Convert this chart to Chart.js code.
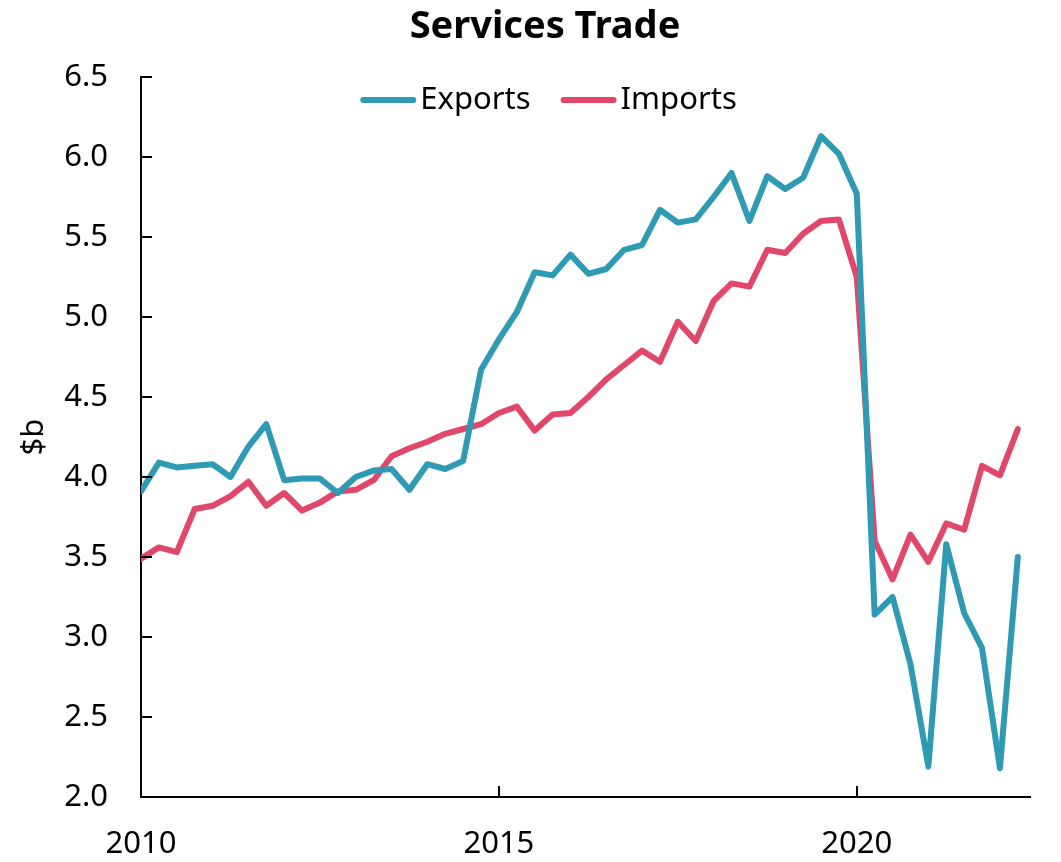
<!DOCTYPE html>
<html>
<head>
<meta charset="utf-8">
<script src="https://cdn.jsdelivr.net/npm/chart.js@4"></script>
<style>
  html, body { margin: 0; padding: 0; background: #fff; }
  #wrap { width: 1061px; height: 862px; }
</style>
</head>
<body>
<div id="wrap"><canvas id="chart" width="1061" height="862"></canvas></div>
<script>
// quarterly, 2010 Q1 .. 2022 Q2
const quarters = [
  "2010Q1","2010Q2","2010Q3","2010Q4","2011Q1","2011Q2","2011Q3","2011Q4",
  "2012Q1","2012Q2","2012Q3","2012Q4","2013Q1","2013Q2","2013Q3","2013Q4",
  "2014Q1","2014Q2","2014Q3","2014Q4","2015Q1","2015Q2","2015Q3","2015Q4",
  "2016Q1","2016Q2","2016Q3","2016Q4","2017Q1","2017Q2","2017Q3","2017Q4",
  "2018Q1","2018Q2","2018Q3","2018Q4","2019Q1","2019Q2","2019Q3","2019Q4",
  "2020Q1","2020Q2","2020Q3","2020Q4","2021Q1","2021Q2","2021Q3","2021Q4",
  "2022Q1","2022Q2"
];
const exportsB = [
  3.91, 4.09, 4.06, 4.07, 4.08, 4.00, 4.19, 4.33, 3.98, 3.99,
  3.99, 3.90, 4.00, 4.04, 4.05, 3.92, 4.08, 4.05, 4.10, 4.67,
  4.86, 5.03, 5.28, 5.26, 5.39, 5.27, 5.30, 5.42, 5.45, 5.67,
  5.59, 5.61, 5.75, 5.90, 5.60, 5.88, 5.80, 5.87, 6.13, 6.02,
  5.77, 3.14, 3.25, 2.83, 2.19, 3.58, 3.15, 2.93, 2.18, 3.50
];
const importsB = [
  3.49, 3.56, 3.53, 3.80, 3.82, 3.88, 3.97, 3.82, 3.90, 3.79,
  3.84, 3.91, 3.92, 3.98, 4.13, 4.18, 4.22, 4.27, 4.30, 4.33,
  4.40, 4.44, 4.29, 4.39, 4.40, 4.50, 4.61, 4.70, 4.79, 4.72,
  4.97, 4.85, 5.10, 5.21, 5.19, 5.42, 5.40, 5.52, 5.60, 5.61,
  5.25, 3.60, 3.36, 3.64, 3.47, 3.71, 3.67, 4.07, 4.01, 4.30
];
const xTicks = [2010, 2015, 2020];
const yTicks = [2.0, 2.5, 3.0, 3.5, 4.0, 4.5, 5.0, 5.5, 6.0, 6.5];

const FONT = "'Noto Sans', 'Open Sans', sans-serif";
const TICK_SIZE = 31;

function qToYear(q) {
  return parseInt(q.slice(0, 4)) + (parseInt(q.slice(5)) - 1) / 4;
}
const pts = (vals) => quarters.map((q, i) => ({ x: qToYear(q), y: vals[i] }));

// short tick marks pointing into the plot
const innerTicks = {
  id: "innerTicks",
  afterDraw(chart) {
    const { ctx, chartArea, scales } = chart;
    ctx.save();
    ctx.strokeStyle = "#000";
    ctx.lineWidth = 2;
    ctx.beginPath();
    yTicks.forEach((v) => {
      const y = Math.round(scales.y.getPixelForValue(v));
      ctx.moveTo(chartArea.left, y);
      ctx.lineTo(chartArea.left + 11, y);
    });
    xTicks.forEach((v) => {
      const x = Math.round(scales.x.getPixelForValue(v));
      ctx.moveTo(x, chartArea.bottom);
      ctx.lineTo(x, chartArea.bottom - 11);
    });
    ctx.stroke();
    ctx.restore();
  },
};

// title in the original sits a bit right of the canvas centre
const nudgeTitle = {
  id: "nudgeTitle",
  afterLayout(chart) {
    const t = chart.titleBlock;
    if (t) { t.left += 30; t.right += 30; }
  },
};

// legend sitting inside the top of the plot, one row
const insideLegend = {
  id: "insideLegend",
  afterDraw(chart) {
    const { ctx, chartArea } = chart;
    const sample = 50, lw = 6, gap = 4, spacing = 30;
    ctx.save();
    ctx.font = TICK_SIZE + "px " + FONT;
    const items = chart.data.datasets.map((ds) => {
      const tw = ctx.measureText(ds.label).width;
      return { ds, tw, w: sample + lw + gap + tw };
    });
    const total = items.reduce((s, it) => s + it.w, 0) + spacing * (items.length - 1);
    const cx = (chartArea.left + chartArea.right) / 2 - 37;
    const cy = chartArea.top + 23;
    let x = cx - total / 2;
    items.forEach((it) => {
      ctx.strokeStyle = it.ds.borderColor;
      ctx.lineWidth = lw;
      ctx.lineCap = "round";
      ctx.beginPath();
      ctx.moveTo(x + lw / 2, cy);
      ctx.lineTo(x + lw / 2 + sample, cy);
      ctx.stroke();
      ctx.fillStyle = "#000";
      ctx.textBaseline = "middle";
      ctx.textAlign = "left";
      ctx.fillText(it.ds.label, x + sample + lw + gap, cy);
      x += it.w + spacing;
    });
    ctx.restore();
  },
};

new Chart(document.getElementById("chart"), {
  type: "line",
  data: {
    datasets: [
      {
        label: "Exports",
        data: pts(exportsB),
        borderColor: "#2f9ab4",
        backgroundColor: "#2f9ab4",
        borderWidth: 6,
        borderCapStyle: "round",
        borderJoinStyle: "round",
        pointRadius: 0,
        tension: 0,
      },
      {
        label: "Imports",
        data: pts(importsB),
        borderColor: "#e0476a",
        backgroundColor: "#e0476a",
        borderWidth: 6,
        borderCapStyle: "round",
        borderJoinStyle: "round",
        pointRadius: 0,
        tension: 0,
      },
    ],
  },
  options: {
    responsive: false,
    animation: false,
    layout: { padding: { left: 0, right: 31, top: 0, bottom: 0 } },
    plugins: {
      title: {
        display: true,
        text: "Services Trade",
        color: "#000",
        font: { family: FONT, size: 38, weight: "bold" },
        padding: { top: 4, bottom: 27.4 },
      },
      legend: { display: false },
      tooltip: { enabled: false },
    },
    scales: {
      x: {
        type: "linear",
        min: 2010,
        max: 2022.42,
        afterFit: (s) => { s.height = 65; },
        afterBuildTicks: (s) => {
          s.ticks = xTicks.map((v) => ({ value: v }));
        },
        grid: { display: false, drawTicks: false },
        border: { display: true, color: "#000", width: 2 },
        ticks: {
          color: "#000",
          font: { family: FONT, size: TICK_SIZE },
          padding: 29,
          maxRotation: 0,
          callback: (v) => String(v),
        },
      },
      y: {
        min: 2,
        max: 6.5,
        afterFit: (s) => { s.width = 141; },
        afterBuildTicks: (s) => {
          s.ticks = yTicks.map((v) => ({ value: v }));
        },
        grid: { display: false, drawTicks: false },
        border: { display: true, color: "#000", width: 2 },
        title: {
          display: true,
          text: "$b",
          color: "#000",
          font: { family: FONT, size: TICK_SIZE },
          padding: { top: 16, bottom: 0 },
        },
        ticks: {
          color: "#000",
          font: { family: FONT, size: TICK_SIZE },
          padding: 33,
          callback: (v) => Number(v).toFixed(1),
        },
      },
    },
  },
  plugins: [innerTicks, nudgeTitle, insideLegend],
});
</script>
</body>
</html>
